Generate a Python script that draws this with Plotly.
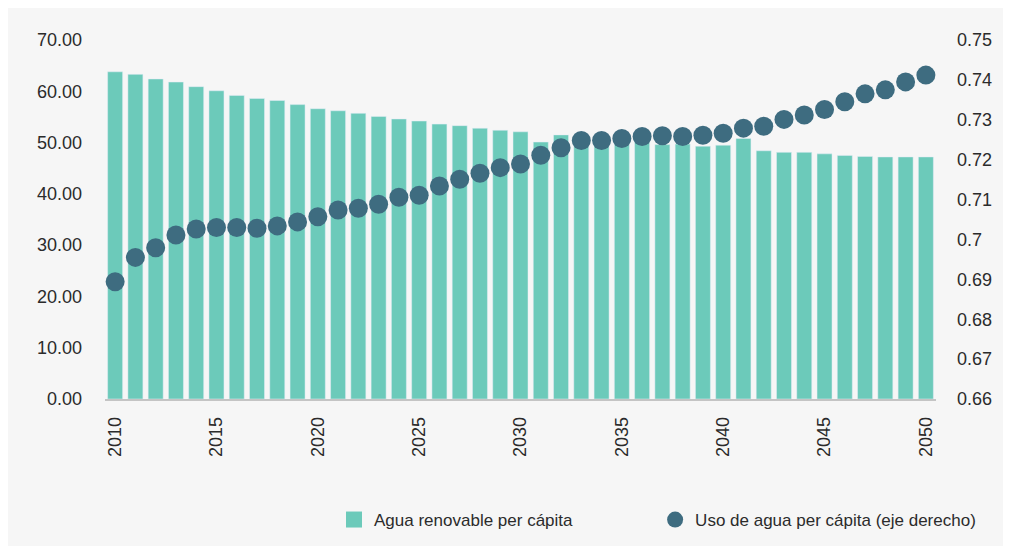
import plotly.graph_objects as go

years = list(range(2010, 2051))

# Agua renovable per cápita (eje izquierdo)
agua_renovable = [
    63.8, 63.3, 62.4, 61.8, 60.9, 60.1, 59.2, 58.6, 58.2, 57.4,
    56.6, 56.2, 55.7, 55.1, 54.6, 54.2, 53.6, 53.3, 52.8, 52.4,
    52.1, 50.1, 51.5, 51.1, 50.8, 50.5, 50.2, 49.6, 49.7, 49.3,
    49.5, 50.8, 48.4, 48.1, 48.1, 47.8, 47.5, 47.3, 47.2, 47.2,
    47.2,
]

# Uso de agua per cápita (eje derecho)
uso_agua = [
    0.6894, 0.6955, 0.6979, 0.7011, 0.7026, 0.7030, 0.7030, 0.7028, 0.7034, 0.7044,
    0.7057, 0.7074, 0.7078, 0.7088, 0.7106, 0.7111, 0.7134, 0.7151, 0.7166, 0.7180,
    0.7189, 0.7211, 0.7230, 0.7248, 0.7248, 0.7253, 0.7258, 0.7260, 0.7258, 0.7261,
    0.7266, 0.7279, 0.7284, 0.7301, 0.7312, 0.7326, 0.7345, 0.7365, 0.7375, 0.7395,
    0.7412,
]

left_ticks = [0, 10, 20, 30, 40, 50, 60, 70]
right_ticks = [0.66, 0.67, 0.68, 0.69, 0.70, 0.71, 0.72, 0.73, 0.74, 0.75]

TEAL = "#6ccaba"
SLATE = "#3e6c80"
BG = "#f6f6f6"
FONT = "Liberation Sans, Arial, sans-serif"

fig = go.Figure()
fig.add_trace(go.Bar(
    x=years, y=agua_renovable, name="Agua renovable per cápita",
    marker_color=TEAL, showlegend=False, yaxis="y",
))
# legend stand-in so the square swatch is bigger than the default bar icon
fig.add_trace(go.Scatter(
    x=[None], y=[None], mode="markers", name="Agua renovable per cápita",
    marker=dict(symbol="square", size=22, color=TEAL), legend="legend",
))
fig.add_trace(go.Scatter(
    x=years, y=uso_agua, mode="markers",
    name="Uso de agua per cápita (eje derecho)",
    marker=dict(size=19, color=SLATE), yaxis="y2", legend="legend2",
))

legend_style = dict(
    orientation="h", xanchor="left", y=-0.337, yanchor="middle",
    bgcolor="rgba(0,0,0,0)", font=dict(size=17),
)

fig.update_layout(
    width=1011, height=546,
    paper_bgcolor=BG, plot_bgcolor=BG,
    font=dict(family=FONT, size=18, color="#2b2b2b"),
    margin=dict(l=97, r=83, t=32, b=155),
    bargap=0.26,
    xaxis=dict(
        range=[2009.5, 2050.5], tick0=2010, dtick=5, tickangle=-90,
        showgrid=False, zeroline=False,
        showline=True, linecolor="#c4c4c4", linewidth=1.5,
        ticklabelstandoff=9,
    ),
    yaxis=dict(
        range=[0, 70], tickvals=left_ticks, tickformat=".2f",
        showgrid=False, zeroline=False, ticklabelstandoff=22,
    ),
    yaxis2=dict(
        overlaying="y", side="right", range=[0.66, 0.75],
        tickvals=right_ticks, ticktext=[str(round(v, 2)) for v in right_ticks],
        showgrid=False, zeroline=False, ticklabelstandoff=20,
    ),
    legend=dict(x=0.2756, **legend_style),
    legend2=dict(x=0.662, **legend_style),
)

fig.write_html("out.html")
